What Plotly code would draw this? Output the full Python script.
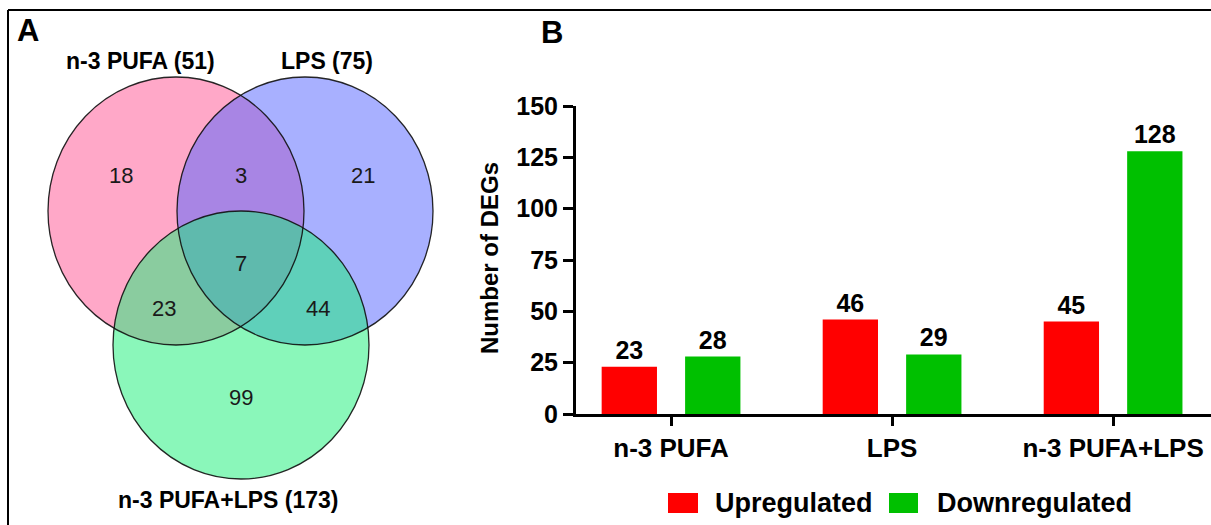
import plotly.graph_objects as go

# ---------------- data ----------------
# Venn panel: exclusive region counts
set_names = ["n-3 PUFA", "LPS", "n-3 PUFA+LPS"]
region_keys = ["P", "PL", "L", "PLC", "PC", "LC", "C"]   # P=n-3 PUFA, L=LPS, C=combined
region_counts = [18, 3, 21, 7, 23, 44, 99]

# Bar panel: up / down regulated DEGs per treatment
categories = ["n-3 PUFA", "LPS", "n-3 PUFA+LPS"]
series_names = ["Upregulated", "Downregulated"]
upregulated = [23, 46, 45]
downregulated = [28, 29, 128]
y_ticks = [0, 25, 50, 75, 100, 125, 150]

# ---------------- layout constants ----------------
W, H = 1211, 525
FONT = "Liberation Sans, Arial, Helvetica, sans-serif"
RED = "#FF0000"
GREEN = "#00C000"

def px(x):
    return x / W

def py(y):
    return 1 - y / H

fig = go.Figure()

# ---------------- panel B: grouped bars ----------------
for name, vals, col in zip(series_names, [upregulated, downregulated], [RED, GREEN]):
    fig.add_trace(go.Bar(
        x=categories, y=vals, name=name, marker=dict(color=col, line=dict(width=0)),
        text=vals, texttemplate="%{y}", textposition="outside",
        textfont=dict(family=FONT, size=25, color="black", weight="bold"),
        cliponaxis=False, xaxis="x2", yaxis="y2", showlegend=False,
    ))

# ---------------- panel A: Venn diagram ----------------
# ellipse centres / radii in pixel units of the hidden venn axes
circles = {
    "n-3 PUFA": dict(cx=176, cy=211, fill="rgba(255,81,145,0.5)"),
    "LPS": dict(cx=305, cy=211, fill="rgba(81,97,255,0.5)"),
    "n-3 PUFA+LPS": dict(cx=241, cy=345, fill="rgba(21,239,117,0.5)"),
}
RX, RY = 128, 134

shapes = []
for nm in set_names:
    c = circles[nm]
    shapes.append(dict(type="circle", xref="x", yref="y",
                       x0=c["cx"] - RX, x1=c["cx"] + RX, y0=c["cy"] - RY, y1=c["cy"] + RY,
                       fillcolor=c["fill"], line=dict(width=0), layer="below"))
for nm in set_names:
    c = circles[nm]
    shapes.append(dict(type="circle", xref="x", yref="y",
                       x0=c["cx"] - RX, x1=c["cx"] + RX, y0=c["cy"] - RY, y1=c["cy"] + RY,
                       fillcolor="rgba(0,0,0,0)", line=dict(width=1.3, color="rgba(15,15,15,0.9)"),
                       layer="below"))

# set totals from the exclusive regions
membership = {"n-3 PUFA": "P", "LPS": "L", "n-3 PUFA+LPS": "C"}
totals = {nm: sum(v for k, v in zip(region_keys, region_counts) if membership[nm] in k)
          for nm in set_names}

region_pos = {"P": (121, 175), "PL": (241, 175), "L": (363, 175), "PLC": (241, 263),
              "PC": (164, 308), "LC": (318, 308), "C": (241, 397)}
set_label_pos = {"n-3 PUFA": (140, 61), "LPS": (327, 61), "n-3 PUFA+LPS": (228, 500)}

annotations = []
for k, v in zip(region_keys, region_counts):
    x, y = region_pos[k]
    annotations.append(dict(x=x, y=y, xref="x", yref="y", text=str(v), showarrow=False,
                            xanchor="center", yanchor="middle",
                            font=dict(family=FONT, size=22, color="#1a1a1a")))
for nm in set_names:
    x, y = set_label_pos[nm]
    annotations.append(dict(x=x, y=y, xref="x", yref="y", text=f"{nm} ({totals[nm]})",
                            showarrow=False, xanchor="center", yanchor="middle",
                            font=dict(family=FONT, size=23, color="black", weight="bold")))

# panel letters
for letter, lx, ly in [("A", 28, 31), ("B", 552, 33)]:
    annotations.append(dict(x=px(lx), y=py(ly), xref="paper", yref="paper", text=letter,
                            showarrow=False, xanchor="center", yanchor="middle",
                            font=dict(family=FONT, size=31, color="black", weight="bold")))

# y-axis title of the bar panel
annotations.append(dict(x=px(489), y=py(258), xref="paper", yref="paper", text="Number of DEGs",
                        textangle=-90, showarrow=False, xanchor="center", yanchor="middle",
                        font=dict(family=FONT, size=24, color="black", weight="bold")))

# bar legend, drawn as swatches + labels
legend_items = [(series_names[0], RED, 668, 698, 713), (series_names[1], GREEN, 889, 918, 935)]
for name, col, x0, x1, tx in legend_items:
    shapes.append(dict(type="rect", xref="paper", yref="paper",
                       x0=px(x0), x1=px(x1), y0=py(513), y1=py(493),
                       fillcolor=col, line=dict(width=0)))
    annotations.append(dict(x=px(tx), y=py(503), xref="paper", yref="paper", text=name,
                            showarrow=False, xanchor="left", yanchor="middle",
                            font=dict(family=FONT, size=27, color="black", weight="bold")))

# outer frame (top and left edges)
shapes.append(dict(type="line", xref="paper", yref="paper", x0=px(8), x1=1, y0=py(10), y1=py(10),
                   line=dict(color="black", width=2)))
shapes.append(dict(type="line", xref="paper", yref="paper", x0=px(8), x1=px(8), y0=py(10), y1=0,
                   line=dict(color="black", width=2)))

fig.update_layout(
    width=W, height=H, margin=dict(l=0, r=0, t=0, b=0, pad=0, autoexpand=False),
    paper_bgcolor="white", plot_bgcolor="rgba(0,0,0,0)",
    showlegend=False, barmode="group", bargap=0.245, bargroupgap=0.337,
    font=dict(family=FONT, color="black"),
    shapes=shapes, annotations=annotations,
    # hidden axes in pixel units for the Venn panel
    xaxis=dict(domain=[0, px(545)], range=[0, 545], visible=False, fixedrange=True,
               automargin=False),
    yaxis=dict(domain=[0, 1], range=[H, 0], visible=False, fixedrange=True, automargin=False),
    xaxis2=dict(domain=[px(576), 1], range=[-0.43, 2.443], anchor="y2", automargin=False,
                showline=True, linewidth=3, linecolor="black",
                ticks="outside", ticklen=9, tickwidth=3, tickcolor="black",
                showgrid=False, zeroline=False,
                tickfont=dict(family=FONT, size=26, color="black", weight="bold")),
    yaxis2=dict(domain=[py(414), py(106)], range=[0, 150], anchor="x2", automargin=False,
                tickvals=y_ticks, showline=True, linewidth=3, linecolor="black",
                ticks="outside", ticklen=10, tickwidth=3, tickcolor="black",
                showgrid=False, zeroline=False,
                tickfont=dict(family=FONT, size=25, color="black", weight="bold")),
)

fig.write_html("out.html")
